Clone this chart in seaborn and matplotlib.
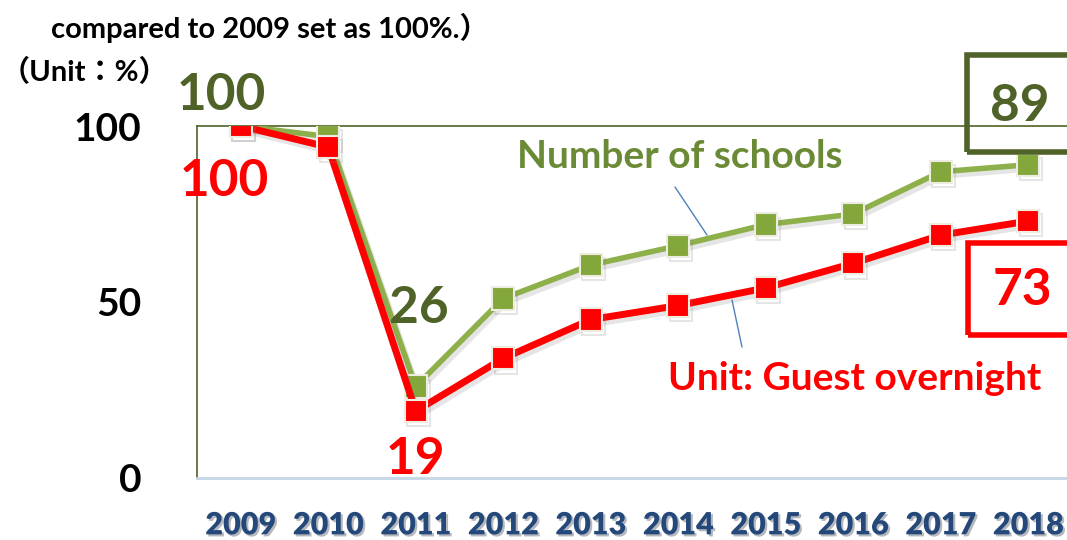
import matplotlib
matplotlib.use("Agg")
import matplotlib.pyplot as plt
import matplotlib.patheffects as pe
from matplotlib.patches import Rectangle
from matplotlib.lines import Line2D
import seaborn as sns
import pandas as pd

# data (index, 2009 = 100)
years = [2009, 2010, 2011, 2012, 2013, 2014, 2015, 2016, 2017, 2018]
schools = [100, 97, 26, 51, 60.5, 66, 72, 75, 87, 89]
overnight = [100, 94, 19, 34, 45, 49, 54, 61, 69, 73]
y_ticks = [0, 50, 100]

title_text = "compared to 2009 set as 100%.\uff09"
unit_text = "\uff08Unit\uff1a%\uff09"
schools_label = "Number of schools"
overnight_label = "Unit: Guest overnight"

GREEN_LINE = "#8DB04A"
GREEN_MARK = "#84A73C"
GREEN_DARK = "#4F6228"
GREEN_TEXT = "#6A8A35"
RED = "#FF0000"
YEAR_BLUE = "#25487A"

sns.set_style("white")
plt.rcParams["font.family"] = ["Lato", "Noto Sans CJK JP", "DejaVu Sans"]
plt.rcParams["font.weight"] = "bold"

W, H = 1067, 540
fig = plt.figure(figsize=(W / 100, H / 100), dpi=100)


def fx(px):
    return px / W


def fy(py):
    return 1 - py / H


ax = fig.add_axes([fx(197), fy(478), fx(1072) - fx(197), fy(126) - fy(478)])

df = pd.DataFrame({"year": years, "schools": schools, "overnight": overnight})

shadow = [pe.SimpleLineShadow(offset=(2, -3), shadow_color="gray", alpha=0.2), pe.Normal()]

sns.lineplot(data=df, x="year", y="schools", ax=ax, color=GREEN_LINE, lw=4,
             marker="s", markersize=16, markerfacecolor=GREEN_MARK,
             markeredgecolor="#EEECE1", markeredgewidth=1.5, path_effects=shadow, zorder=3)
sns.lineplot(data=df, x="year", y="overnight", ax=ax, color=RED, lw=5,
             marker="s", markersize=16, markerfacecolor=RED,
             markeredgecolor="#EEECE1", markeredgewidth=1.5, path_effects=shadow, zorder=4)

ax.set_xlim(years[0] - 0.5, years[-1] + 0.5)
ax.set_ylim(0, 100)
ax.set_xlabel("")
ax.set_ylabel("")

ax.set_yticks(y_ticks)
ax.set_yticklabels([str(v) for v in y_ticks], fontsize=28, fontweight="bold", color="black")
ax.tick_params(axis="y", length=0, pad=40)

ax.set_xticks(years)
ax.set_xticks([y - 0.5 for y in years] + [years[-1] + 0.5], minor=True)
ax.tick_params(axis="x", which="major", length=0, pad=24)
ax.tick_params(axis="x", which="minor", length=9, width=1.2, color="#C5D5E6", direction="out")
xl = ax.set_xticklabels([str(y) for y in years], fontsize=22, fontweight="heavy", color=YEAR_BLUE)
for t in xl:
    t.set_path_effects([pe.SimplePatchShadow(offset=(1.5, -1.5), alpha=0.3), pe.Normal()])

for side in ["left", "top", "right"]:
    ax.spines[side].set_color(GREEN_DARK)
    ax.spines[side].set_linewidth(1.2)
ax.spines["bottom"].set_color("#C5D5E6")
ax.spines["bottom"].set_linewidth(2)

# value labels
big = dict(fontsize=37, fontweight="bold", ha="center", va="center", textcoords="offset points")
ax.annotate(str(schools[0]), (years[0], schools[0]), xytext=(-14, 22), color=GREEN_DARK, **big)
ax.annotate(str(overnight[0]), (years[0], overnight[0]), xytext=(-12, -40), color=RED, **big)
ax.annotate(str(schools[2]), (years[2], schools[2]), xytext=(2, 56), color=GREEN_DARK, **big)
ax.annotate(str(overnight[2]), (years[2], overnight[2]), xytext=(0, -35), color=RED, **big)
ax.annotate(str(schools[-1]), (years[-1], schools[-1]), xytext=(-6, 42), color=GREEN_DARK, **big)
ax.annotate(str(overnight[-1]), (years[-1], overnight[-1]), xytext=(-4, -50), color=RED, **big)

# boxes round the last values
fig.patches.append(Rectangle((fx(967), fy(152)), fx(1090) - fx(967), fy(55) - fy(152),
                             transform=fig.transFigure, fill=False, ec=GREEN_DARK, lw=4))
fig.patches.append(Rectangle((fx(968), fy(335)), fx(1090) - fx(968), fy(243) - fy(335),
                             transform=fig.transFigure, fill=False, ec=RED, lw=4))

# series labels with leader lines
fig.text(fx(680), fy(157), schools_label, fontsize=28, fontweight="bold", color=GREEN_TEXT,
         ha="center", va="center")
fig.text(fx(855), fy(378), overnight_label, fontsize=28, fontweight="bold", color=RED,
         ha="center", va="center")
fig.add_artist(Line2D([fx(675), fx(707)], [fy(187), fy(235)], color="#4F81BD", lw=1))
fig.add_artist(Line2D([fx(732), fx(742)], [fy(300), fy(347)], color="#4F81BD", lw=1))

# header texts
fig.text(fx(270), fy(28), title_text, fontsize=21, fontweight="bold", color="black",
         ha="center", va="center")
fig.text(fx(84), fy(72), unit_text, fontsize=21, fontweight="bold", color="black",
         ha="center", va="center")

fig.savefig("out.png", dpi=100)
